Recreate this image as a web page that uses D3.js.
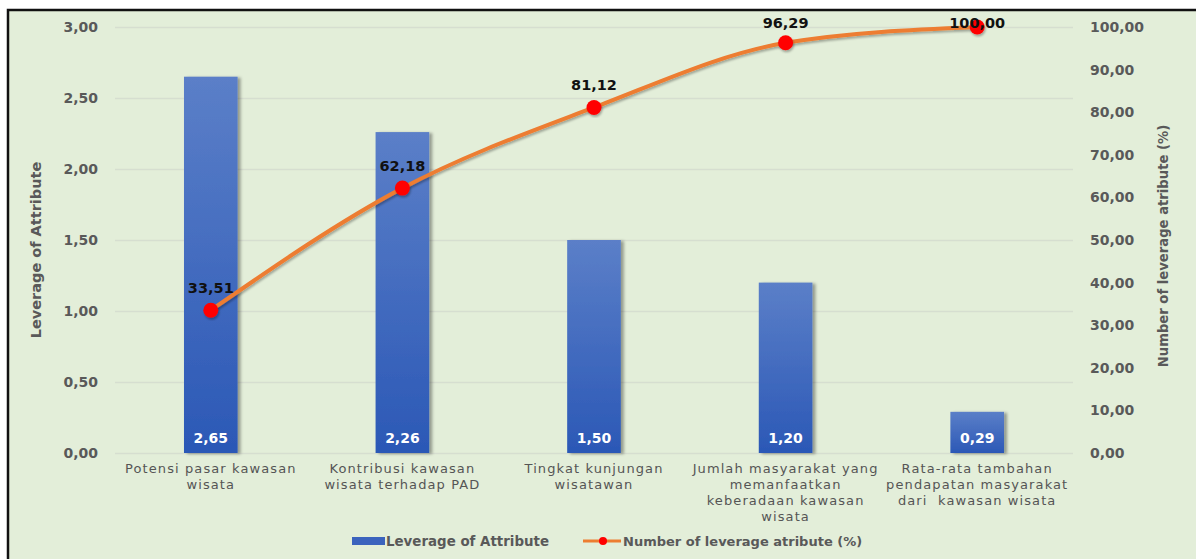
<!DOCTYPE html>
<html><head><meta charset="utf-8">
<script src="https://cdn.jsdelivr.net/npm/d3@7/dist/d3.min.js"></script>
<style>html,body{margin:0;padding:0;background:#fff;}svg{display:block;}</style>
</head><body>
<script>
const categories = [
  "Potensi pasar kawasan\nwisata",
  "Kontribusi kawasan\nwisata terhadap PAD",
  "Tingkat kunjungan\nwisatawan",
  "Jumlah masyarakat yang\nmemanfaatkan\nkeberadaan kawasan\nwisata",
  "Rata-rata tambahan\npendapatan masyarakat\ndari  kawasan wisata"
];
const leverage = [2.65, 2.26, 1.50, 1.20, 0.29];
const cumulative = [33.51, 62.18, 81.12, 96.29, 100.00];
const leftTicks = [0, 0.5, 1, 1.5, 2, 2.5, 3];
const rightTicks = [0, 10, 20, 30, 40, 50, 60, 70, 80, 90, 100];
const seriesNames = ["Leverage of Attribute", "Number of leverage atribute (%)"];
const axisTitles = ["Leverage of Attribute", "Number of leverage atribute (%)"];

const W = 1196, H = 559;
const m = {left: 115, right: 1073, top: 27, bottom: 453};
const fmt = (v, d) => v.toFixed(d).replace(".", ",");
const FONT = "DejaVu Sans";

const svg = d3.select("body").append("svg").attr("width", W).attr("height", H);
const defs = svg.append("defs");
const g1 = defs.append("linearGradient").attr("id", "barGrad").attr("x1", 0).attr("y1", 0).attr("x2", 0).attr("y2", 1);
g1.append("stop").attr("offset", "0%").attr("stop-color", "#5b7fc8");
g1.append("stop").attr("offset", "100%").attr("stop-color", "#2b58b6");
const f = defs.append("filter").attr("id", "shadow").attr("x", "-20%").attr("y", "-20%").attr("width", "150%").attr("height", "150%");
f.append("feDropShadow").attr("dx", 3).attr("dy", 1).attr("stdDeviation", 1.5).attr("flood-color", "#000").attr("flood-opacity", 0.35);
const f2 = defs.append("filter").attr("id", "lshadow").attr("x", "-10%").attr("y", "-10%").attr("width", "130%").attr("height", "130%");
f2.append("feDropShadow").attr("dx", 1).attr("dy", 2).attr("stdDeviation", 1.2).attr("flood-color", "#000").attr("flood-opacity", 0.3);

// background and frame
svg.append("rect").attr("x", 8).attr("y", 10).attr("width", W).attr("height", H)
  .attr("fill", "#e3eed9").attr("stroke", "#111").attr("stroke-width", 2.5);

const x = d3.scaleBand().domain(d3.range(categories.length)).range([m.left, m.right]).paddingInner(0.72).paddingOuter(0.36);
const yL = d3.scaleLinear().domain([0, 3]).range([m.bottom, m.top]);
const yR = d3.scaleLinear().domain([0, 100]).range([m.bottom, m.top]);

// gridlines
const gl = d3.axisLeft(yL).tickValues(leftTicks).tickSize(-(m.right - m.left)).tickFormat("");
svg.append("g").attr("transform", `translate(${m.left},0)`).call(gl)
  .call(g => g.select(".domain").remove())
  .call(g => g.selectAll("line").attr("stroke", "#d6ded0").attr("stroke-width", 1.5));

// left axis labels
const axL = d3.axisLeft(yL).tickValues(leftTicks).tickSize(0).tickPadding(17).tickFormat(d => fmt(d, 2));
svg.append("g").attr("transform", `translate(${m.left},0)`).call(axL)
  .call(g => g.select(".domain").remove())
  .call(g => g.selectAll("text").attr("fill", "#595959").attr("font-family", FONT).attr("font-weight", "bold").attr("font-size", 14));

// right axis labels
const axR = d3.axisRight(yR).tickValues(rightTicks).tickSize(0).tickPadding(17).tickFormat(d => fmt(d, 2));
svg.append("g").attr("transform", `translate(${m.right},0)`).call(axR)
  .call(g => g.select(".domain").remove())
  .call(g => g.selectAll("text").attr("fill", "#595959").attr("font-family", FONT).attr("font-weight", "bold").attr("font-size", 14));

// axis titles
svg.append("text").attr("transform", `translate(41,250) rotate(-90)`).attr("text-anchor", "middle")
  .attr("font-family", FONT).attr("font-weight", "bold").attr("font-size", 14.5).attr("fill", "#595959").text(axisTitles[0]);
svg.append("text").attr("transform", `translate(1168,246) rotate(-90)`).attr("text-anchor", "middle")
  .attr("font-family", FONT).attr("font-weight", "bold").attr("font-size", 13.2).attr("fill", "#595959").text(axisTitles[1]);

// bars
svg.append("g").selectAll("rect").data(leverage).join("rect")
  .attr("x", (d, i) => x(i)).attr("width", x.bandwidth())
  .attr("y", d => yL(d)).attr("height", d => yL(0) - yL(d))
  .attr("fill", "url(#barGrad)").attr("filter", "url(#shadow)");
svg.append("g").selectAll("text").data(leverage).join("text")
  .attr("x", (d, i) => x(i) + x.bandwidth() / 2).attr("y", yL(0) - 10)
  .attr("text-anchor", "middle").attr("font-family", FONT).attr("font-weight", "bold").attr("font-size", 14)
  .attr("fill", "#fff").text(d => fmt(d, 2));

// category labels
const cl = svg.append("g").selectAll("text").data(categories).join("text")
  .attr("x", (d, i) => x(i) + x.bandwidth() / 2).attr("y", 473)
  .attr("text-anchor", "middle").attr("font-family", FONT).attr("font-size", 13)
  .attr("letter-spacing", 1.1).attr("fill", "#555").style("white-space", "pre");
cl.each(function(d) {
  const t = d3.select(this);
  d.split("\n").forEach((ln, k) => {
    t.append("tspan").attr("x", t.attr("x")).attr("dy", k === 0 ? 0 : 16).text(ln);
  });
});

// line
const cx = i => x(i) + x.bandwidth() / 2;
const line = d3.line().x((d, i) => cx(i)).y(d => yR(d)).curve(d3.curveMonotoneX);
svg.append("path").datum(cumulative).attr("d", line).attr("fill", "none")
  .attr("stroke", "#ed7d31").attr("stroke-width", 4).attr("filter", "url(#lshadow)");
svg.append("g").selectAll("circle").data(cumulative).join("circle")
  .attr("cx", (d, i) => cx(i)).attr("cy", d => yR(d)).attr("r", 7.5)
  .attr("fill", "#ff0000").attr("filter", "url(#lshadow)");
svg.append("g").selectAll("text").data(cumulative).join("text")
  .attr("x", (d, i) => cx(i)).attr("y", d => Math.max(yR(d) - 17, 28))
  .attr("text-anchor", "middle").attr("font-family", FONT).attr("font-weight", "bold").attr("font-size", 14.5)
  .attr("fill", "#111").text(d => fmt(d, 2));

// legend
const lg = svg.append("g");
lg.append("rect").attr("x", 352).attr("y", 537).attr("width", 33).attr("height", 8).attr("fill", "#3b63bd");
lg.append("text").attr("x", 386).attr("y", 546).attr("font-family", FONT).attr("font-weight", "bold")
  .attr("font-size", 13.4).attr("fill", "#595959").text(seriesNames[0]);
lg.append("line").attr("x1", 583).attr("x2", 621).attr("y1", 541).attr("y2", 541).attr("stroke", "#ed7d31").attr("stroke-width", 3);
lg.append("circle").attr("cx", 603).attr("cy", 541).attr("r", 4).attr("fill", "#ff0000");
lg.append("text").attr("x", 623).attr("y", 546).attr("font-family", FONT).attr("font-weight", "bold")
  .attr("font-size", 13).attr("fill", "#595959").text(seriesNames[1]);
</script>
</body></html>
